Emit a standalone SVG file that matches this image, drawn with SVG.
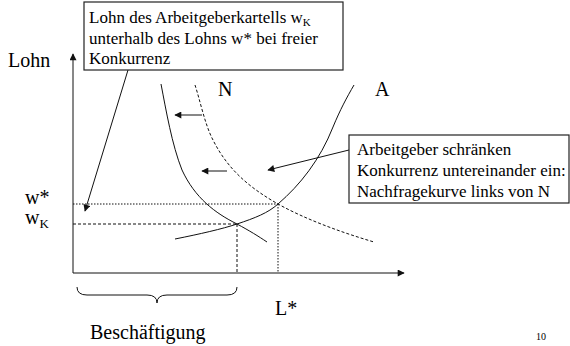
<svg xmlns="http://www.w3.org/2000/svg" width="570" height="346" viewBox="0 0 570 346">
<defs>
<style>
text{font-family:"Liberation Serif","Times New Roman",serif;fill:#000}
.lbl{font-size:20px}
.box{font-size:17px}
.ln{fill:none;stroke:#111;stroke-width:1}
.dash{stroke-dasharray:3,2}
.dot{stroke-dasharray:1.5,1.5}
.frame{fill:#fff;stroke:#222;stroke-width:1.2}
</style>
<marker id="ah" viewBox="0 0 10 10" refX="9" refY="5" markerWidth="8" markerHeight="7" markerUnits="userSpaceOnUse" orient="auto">
<path d="M0,0 L10,5 L0,10 z" fill="#111"/>
</marker>
</defs>
<rect width="570" height="346" fill="#fff"/>

<g id="axes">
<line class="ln" x1="73" y1="273" x2="73" y2="54" marker-end="url(#ah)"/>
<line class="ln" x1="73" y1="273" x2="404" y2="273" marker-end="url(#ah)"/>
<text class="lbl" x="8" y="67">Lohn</text>
<text class="lbl" x="25" y="204">w*</text>
<text class="lbl" x="25" y="224">w<tspan font-size="13" dy="4">K</tspan></text>
<text class="lbl" x="275" y="315">L*</text>
</g>

<g id="guides">
<line class="ln dot" x1="73" y1="204" x2="278" y2="204"/>
<line class="ln dash" x1="73" y1="224" x2="237" y2="224"/>
<line class="ln dash" x1="237" y1="224" x2="237" y2="273"/>
<line class="ln dot" x1="278" y1="204" x2="278" y2="273"/>
</g>

<g id="curve-N">
<path class="ln dash" d="M195,85 C200,100 205,125 213,140 C228,170 250,188 278,204 C305,219 340,232 374,242"/>
<text class="lbl" x="218" y="96">N</text>
</g>

<g id="curve-N-shifted">
<path class="ln" d="M161,84 C166,110 172,145 182,170 C195,198 215,213 237,224 C250,231 258,236 267,242"/>
</g>

<g id="curve-A">
<path class="ln" d="M175,239 C200,234 222,229 237,224 C255,218 268,213 278,204 C300,185 320,160 333,127 C340,110 347,97 354,85"/>
<text class="lbl" x="375" y="96">A</text>
</g>

<g id="connectors">
<line class="ln" x1="202" y1="115" x2="175" y2="115" marker-end="url(#ah)"/>
<line class="ln" x1="227" y1="171" x2="202" y2="171" marker-end="url(#ah)"/>
<line class="ln" x1="349" y1="150" x2="268" y2="170" marker-end="url(#ah)"/>
<line class="ln" x1="128" y1="70" x2="85" y2="211" marker-end="url(#ah)"/>
</g>

<g id="box-kartell">
<rect class="frame" x="84" y="2" width="259" height="68"/>
<text class="box" x="89" y="23">Lohn des Arbeitgeberkartells w<tspan font-size="11" dy="3">K</tspan></text>
<text class="box" x="89" y="44">unterhalb des Lohns w* bei freier</text>
<text class="box" x="89" y="64">Konkurrenz</text>
</g>

<g id="box-arbeitgeber">
<rect class="frame" x="349" y="135" width="220" height="68"/>
<text class="box" x="357" y="155">Arbeitgeber schränken</text>
<text class="box" x="357" y="176">Konkurrenz untereinander ein:</text>
<text class="box" x="357" y="197">Nachfragekurve links von N</text>
</g>

<g id="brace">
<path class="ln" d="M77,287 Q77,295 87,295 L147,295 Q157,295 157,303 Q157,295 167,295 L227,295 Q237,295 237,287"/>
<text class="lbl" x="90" y="339">Beschäftigung</text>
</g>

<text x="536" y="340" font-size="10">10</text>
</svg>
